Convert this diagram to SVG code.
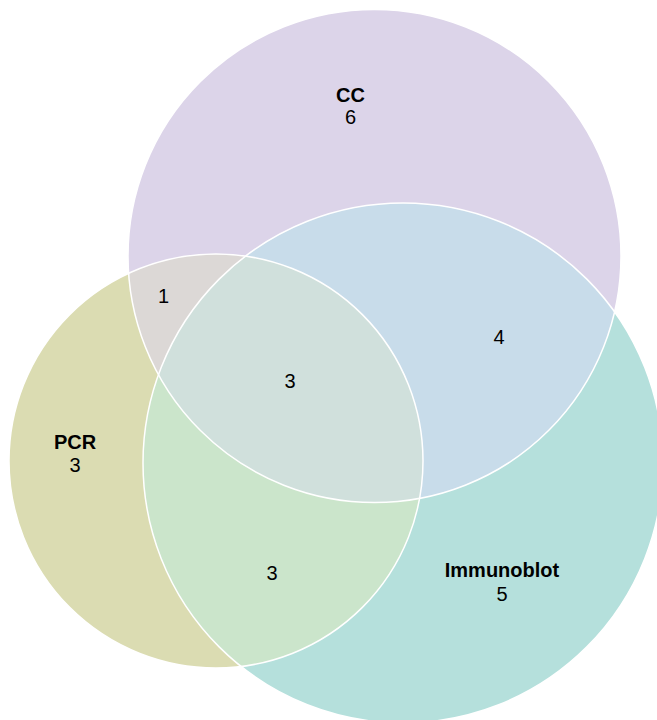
<svg xmlns="http://www.w3.org/2000/svg" width="657" height="720" viewBox="0 0 657 720">
<style>
text{font-family:"Liberation Sans",Arial,sans-serif;font-size:20px;fill:#000;text-anchor:middle}
.t{font-weight:bold}
.edge{fill:none;stroke:#fff;stroke-width:1.5}
</style>
<defs>
<clipPath id="cCC"><circle cx="374.5" cy="256" r="246.5"/></clipPath>
<clipPath id="cPCR"><circle cx="216" cy="461" r="207"/></clipPath>
<clipPath id="cIB"><circle cx="403" cy="463" r="260"/></clipPath>
</defs>
<rect width="657" height="720" fill="#fff"/>
<g id="CC">
<circle cx="374.5" cy="256" r="246.5" fill="#dcd4e9"/>
</g>
<g id="PCR">
<circle cx="216" cy="461" r="207" fill="#dbdcb2"/>
</g>
<g id="Immunoblot">
<circle cx="403" cy="463" r="260" fill="#b5e0dc"/>
</g>
<g id="regions">
<g clip-path="url(#cCC)"><circle cx="216" cy="461" r="207" fill="#dcd8d6"/></g>
<g clip-path="url(#cCC)"><circle cx="403" cy="463" r="260" fill="#c8dcea"/></g>
<g clip-path="url(#cPCR)"><circle cx="403" cy="463" r="260" fill="#cbe5cb"/></g>
<g clip-path="url(#cPCR)"><g clip-path="url(#cCC)"><circle cx="403" cy="463" r="260" fill="#d0e0dc"/></g></g>
</g>
<g id="connectors">
<circle class="edge" cx="374.5" cy="256" r="246.5"/>
<circle class="edge" cx="216" cy="461" r="207"/>
<circle class="edge" cx="403" cy="463" r="260"/>
</g>
<g id="labels">
<text class="t" x="350.5" y="102">CC</text>
<text x="350.5" y="124">6</text>
<text class="t" x="75" y="449">PCR</text>
<text x="75" y="472">3</text>
<text class="t" x="502" y="577">Immunoblot</text>
<text x="502" y="601">5</text>
<text x="163.5" y="303">1</text>
<text x="290" y="388">3</text>
<text x="499" y="344">4</text>
<text x="272" y="580">3</text>
</g>
</svg>
